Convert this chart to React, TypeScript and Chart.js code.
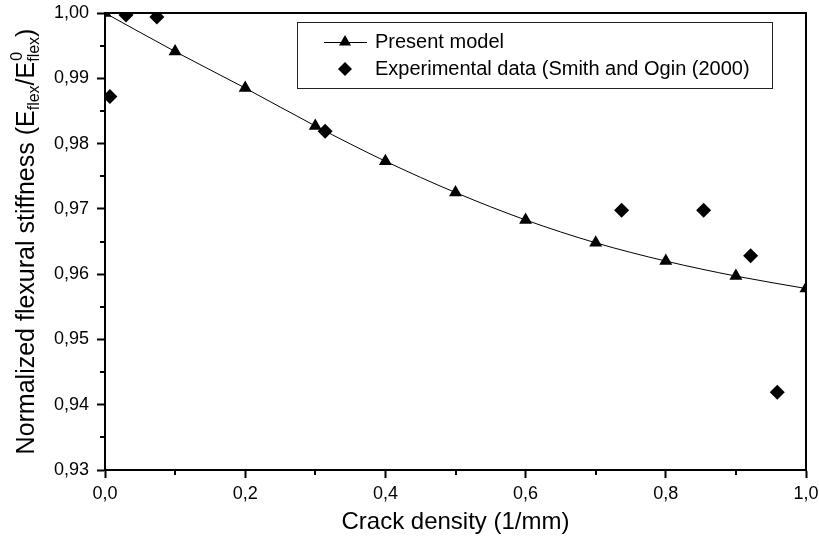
import React, { useEffect, useRef } from "react";
import { Chart, registerables } from "chart.js";

Chart.register(...registerables);

const crackDensityModel = [0, 0.1, 0.2, 0.3, 0.4, 0.5, 0.6, 0.7, 0.8, 0.9, 1.0];
const stiffnessModel = [1.0, 0.9941, 0.9885, 0.9827, 0.9773, 0.9725, 0.9683, 0.9648, 0.962, 0.9597, 0.9578];
const crackDensityExp = [0.007, 0.03, 0.074, 0.314, 0.737, 0.854, 0.921, 0.959];
const stiffnessExp = [0.9872, 0.9997, 0.9994, 0.9819, 0.9698, 0.9698, 0.9628, 0.9419];

const xMinorTicks = [0.1, 0.3, 0.5, 0.7, 0.9];
const yMinorTicks = [0.935, 0.945, 0.955, 0.965, 0.975, 0.985, 0.995];

const modelLabel = "Present model";
const expLabel = "Experimental data (Smith and Ogin (2000)";
const xTitle = "Crack density (1/mm)";

const FONT = '"Liberation Sans", Arial, Helvetica, sans-serif';

const fmt = (v: number, d: number) => v.toFixed(d).replace(".", ",");

const decorPlugin = {
  id: "decor",
  afterDraw(chart: any) {
    const ctx = chart.ctx as CanvasRenderingContext2D;
    const { left, right, top, bottom } = chart.chartArea;
    const xs = chart.scales.x;
    const ys = chart.scales.y;
    ctx.save();
    // top/right frame
    ctx.strokeStyle = "#000";
    ctx.lineWidth = 2;
    ctx.beginPath();
    ctx.moveTo(left, top);
    ctx.lineTo(right, top);
    ctx.lineTo(right, bottom);
    ctx.stroke();
    // minor ticks
    ctx.lineWidth = 2;
    ctx.beginPath();
    xMinorTicks.forEach((v) => {
      const px = Math.round(xs.getPixelForValue(v));
      ctx.moveTo(px, bottom);
      ctx.lineTo(px, bottom + 5);
    });
    yMinorTicks.forEach((v) => {
      const py = Math.round(ys.getPixelForValue(v));
      ctx.moveTo(left, py);
      ctx.lineTo(left - 5, py);
    });
    ctx.stroke();

    // x title
    ctx.fillStyle = "#000";
    ctx.font = `24px ${FONT}`;
    ctx.textAlign = "center";
    ctx.textBaseline = "alphabetic";
    ctx.fillText(xTitle, (left + right) / 2, 529);

    // y title (rotated, with sub/superscripts)
    const big = 25;
    const small = 16;
    const main = "Normalized flexural stiffness (E";
    ctx.translate(34, (top + bottom) / 2);
    ctx.rotate(-Math.PI / 2);
    const w = (s: string, size: number) => {
      ctx.font = `${size}px ${FONT}`;
      return ctx.measureText(s).width;
    };
    const stackW = Math.max(w("0", small), w("flex", small));
    const total = w(main, big) + w("flex", small) + w("/E", big) + stackW + w(")", big);
    let x = -total / 2;
    ctx.textAlign = "left";
    ctx.font = `${big}px ${FONT}`;
    ctx.fillText(main, x, 0);
    x += w(main, big);
    ctx.font = `${small}px ${FONT}`;
    ctx.fillText("flex", x, 5);
    x += w("flex", small);
    ctx.font = `${big}px ${FONT}`;
    ctx.fillText("/E", x, 0);
    x += w("/E", big);
    ctx.font = `${small}px ${FONT}`;
    ctx.fillText("0", x + 1, -12);
    ctx.fillText("flex", x, 5);
    x += stackW;
    ctx.font = `${big}px ${FONT}`;
    ctx.fillText(")", x, 0);
    ctx.restore();

    // legend
    ctx.save();
    const bx = 297, by = 22, bw = 475, bh = 66;
    ctx.fillStyle = "#fff";
    ctx.fillRect(bx, by, bw, bh);
    ctx.strokeStyle = "#222";
    ctx.lineWidth = 1;
    ctx.strokeRect(bx + 0.5, by + 0.5, bw, bh);
    ctx.strokeStyle = "#000";
    ctx.beginPath();
    ctx.moveTo(324, 42.5);
    ctx.lineTo(367, 42.5);
    ctx.stroke();
    ctx.fillStyle = "#000";
    const r = 7;
    ctx.beginPath();
    ctx.moveTo(345, 42 - r);
    ctx.lineTo(345 + r * 0.866, 42 + r * 0.5);
    ctx.lineTo(345 - r * 0.866, 42 + r * 0.5);
    ctx.closePath();
    ctx.fill();
    const d = 7;
    ctx.beginPath();
    ctx.moveTo(345, 69 - d);
    ctx.lineTo(345 + d, 69);
    ctx.lineTo(345, 69 + d);
    ctx.lineTo(345 - d, 69);
    ctx.closePath();
    ctx.fill();
    ctx.font = `20px ${FONT}`;
    ctx.textAlign = "left";
    ctx.textBaseline = "middle";
    ctx.fillText(modelLabel, 375, 42);
    ctx.fillText(expLabel, 375, 69);
    ctx.restore();
  },
};

export default function App() {
  const ref = useRef<HTMLCanvasElement | null>(null);
  useEffect(() => {
    document.body.style.margin = "0";
    const canvas = ref.current!;
    const chart = new Chart(canvas, {
      type: "scatter",
      data: {
        datasets: [
          {
            label: modelLabel,
            data: crackDensityModel.map((x, i) => ({ x, y: stiffnessModel[i] })),
            showLine: true,
            borderColor: "#000",
            borderWidth: 1,
            backgroundColor: "#000",
            pointStyle: "triangle",
            pointRadius: 7.5,
            pointBorderWidth: 0,
            pointBackgroundColor: "#000",
            cubicInterpolationMode: "monotone",
            clip: 0,
          },
          {
            label: expLabel,
            data: crackDensityExp.map((x, i) => ({ x, y: stiffnessExp[i] })),
            showLine: false,
            pointStyle: "rectRot",
            pointRadius: 7.5,
            pointBorderWidth: 0,
            pointBackgroundColor: "#000",
            backgroundColor: "#000",
            borderColor: "#000",
            clip: 0,
          },
        ],
      },
      options: {
        animation: false,
        responsive: false,
        events: [],
        layout: { padding: { left: 0, top: 13, right: 13, bottom: 0 } },
        plugins: { legend: { display: false }, tooltip: { enabled: false } },
        scales: {
          x: {
            type: "linear",
            min: 0,
            max: 1,
            afterFit: (s: any) => {
              s.height = 78;
              s.paddingLeft = 0;
              s.paddingRight = 0;
            },
            border: { display: true, color: "#000", width: 2 },
            grid: { display: true, drawOnChartArea: false, drawTicks: true, tickLength: 8, tickColor: "#000", tickWidth: 2 },
            ticks: {
              stepSize: 0.2,
              color: "#000",
              padding: 5,
              font: { family: FONT, size: 18 },
              maxRotation: 0,
              callback: (v: any) => fmt(Number(v), 1),
            },
          },
          y: {
            type: "linear",
            min: 0.93,
            max: 1.0,
            afterFit: (s: any) => {
              s.width = 105;
              s.paddingTop = 0;
              s.paddingBottom = 0;
            },
            border: { display: true, color: "#000", width: 2 },
            grid: { display: true, drawOnChartArea: false, drawTicks: true, tickLength: 8, tickColor: "#000", tickWidth: 2 },
            ticks: {
              stepSize: 0.01,
              color: "#000",
              padding: 8,
              font: { family: FONT, size: 18 },
              callback: (v: any) => fmt(Number(v), 2),
            },
          },
        },
      },
      plugins: [decorPlugin],
    } as any);
    return () => chart.destroy();
  }, []);
  return (
    <div style={{ position: "absolute", left: 0, top: 0, width: 819, height: 548, background: "#fff" }}>
      <canvas ref={ref} width={819} height={548} style={{ width: 819, height: 548, display: "block" }} />
    </div>
  );
}
